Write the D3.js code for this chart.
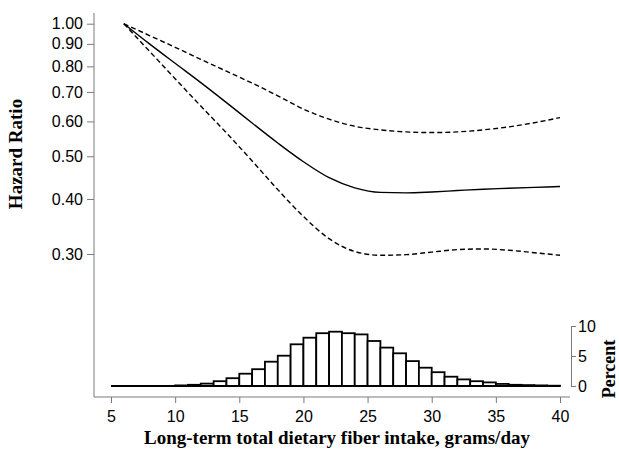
<!DOCTYPE html>
<html>
<head>
<meta charset="utf-8">
<script src="https://cdn.jsdelivr.net/npm/d3@7"></script>
<style>
  body { margin: 0; background: #fff; }
  svg { display: block; }
</style>
</head>
<body>
<div id="chart"></div>
<script>
// fiber intake (grams/day) where the curves were read
const fiber = [6, 8, 10, 12, 14, 16, 18, 20, 22, 24, 26, 28, 30, 32, 34, 36, 38, 40];
// hazard ratio + 95% CI
const hr      = [1.000, 0.900, 0.813, 0.735, 0.662, 0.595, 0.536, 0.486, 0.447, 0.424, 0.414, 0.413, 0.415, 0.418, 0.421, 0.423, 0.425, 0.427];
const hrUpper = [1.000, 0.940, 0.884, 0.830, 0.780, 0.733, 0.686, 0.640, 0.607, 0.585, 0.574, 0.568, 0.566, 0.568, 0.574, 0.583, 0.596, 0.612];
const hrLower = [1.000, 0.866, 0.750, 0.650, 0.565, 0.488, 0.420, 0.365, 0.325, 0.304, 0.298, 0.299, 0.303, 0.307, 0.308, 0.306, 0.302, 0.298];

// histogram, 1 g/day bins starting at 5
const binStart = [5, 6, 7, 8, 9, 10, 11, 12, 13, 14, 15, 16, 17, 18, 19, 20, 21, 22, 23, 24, 25, 26, 27, 28, 29, 30, 31, 32, 33, 34, 35, 36, 37, 38, 39];
const percent  = [0, 0, 0, 0, 0, 0.1, 0.2, 0.4, 0.8, 1.3, 2.05, 2.8, 4.05, 5.05, 6.95, 8.05, 8.8, 9.05, 8.8, 8.6, 7.5, 6.4, 5.45, 4.15, 3.05, 2.3, 1.55, 1.1, 0.8, 0.6, 0.35, 0.2, 0.15, 0.1, 0.05];

const xTicks = [5, 10, 15, 20, 25, 30, 35, 40];
const hrTicks = [0.30, 0.40, 0.50, 0.60, 0.70, 0.80, 0.90, 1.00];
const pctTicks = [0, 5, 10];

const width = 619, height = 453;
const axisGray = "#7a7a7a";

const svg = d3.select("#chart").append("svg")
  .attr("width", width)
  .attr("height", height);

const x = d3.scaleLinear().domain([5, 40]).range([111, 560]);
const y = d3.scaleLog().domain([0.3, 1.0]).range([254, 23.7]);
const yPct = d3.scaleLinear().domain([0, 10]).range([386, 326]);

// left axis (hazard ratio)
const yAxis = svg.append("g")
  .attr("transform", "translate(94,0)")
  .call(d3.axisLeft(y).tickValues(hrTicks).tickFormat(d3.format(".2f")).tickSize(7).tickPadding(4));
yAxis.select(".domain").remove();
svg.append("line")
  .attr("x1", 94).attr("x2", 94).attr("y1", 13).attr("y2", 397)
  .attr("stroke", axisGray);

// bottom axis
const xAxis = svg.append("g")
  .attr("transform", "translate(0,397)")
  .call(d3.axisBottom(x).tickValues(xTicks).tickSize(6).tickPadding(8));
xAxis.select(".domain").remove();
svg.append("line")
  .attr("x1", 94).attr("x2", 570).attr("y1", 397).attr("y2", 397)
  .attr("stroke", axisGray);

// right axis (percent)
svg.append("g")
  .attr("transform", "translate(571,0)")
  .call(d3.axisRight(yPct).tickValues(pctTicks).tickSize(5).tickSizeOuter(0).tickPadding(2));

svg.selectAll(".tick line, .domain").attr("stroke", axisGray);
svg.selectAll(".tick text")
  .attr("fill", "#000")
  .style("font-family", "'Liberation Sans', Arial, sans-serif")
  .style("font-size", "16px");

// histogram
const hist = svg.append("g");
hist.selectAll("rect")
  .data(binStart.filter((d, i) => percent[i] > 0))
  .enter().append("rect")
    .attr("x", d => x(d))
    .attr("y", d => yPct(percent[binStart.indexOf(d)]))
    .attr("width", d => x(d + 1) - x(d))
    .attr("height", d => yPct(0) - yPct(percent[binStart.indexOf(d)]))
    .attr("fill", "#fff")
    .attr("stroke", "#000")
    .attr("stroke-width", 1.8);
// zero line under the bars
hist.append("line")
  .attr("x1", x(binStart[0])).attr("x2", x(binStart[binStart.length - 1] + 1))
  .attr("y1", yPct(0)).attr("y2", yPct(0))
  .attr("stroke", "#000").attr("stroke-width", 2.2);

// spline curves
const line = d3.line()
  .x((d, i) => x(fiber[i]))
  .y(d => y(d))
  .curve(d3.curveMonotoneX);

svg.append("path").datum(hrUpper)
  .attr("d", line).attr("fill", "none")
  .attr("stroke", "#000").attr("stroke-width", 1.4)
  .attr("stroke-dasharray", "5,3");
svg.append("path").datum(hrLower)
  .attr("d", line).attr("fill", "none")
  .attr("stroke", "#000").attr("stroke-width", 1.4)
  .attr("stroke-dasharray", "5,3");
svg.append("path").datum(hr)
  .attr("d", line).attr("fill", "none")
  .attr("stroke", "#000").attr("stroke-width", 1.4);

// titles
const titleFont = "'Liberation Serif', 'Times New Roman', serif";
svg.append("text")
  .attr("transform", "translate(22,154) rotate(-90)")
  .attr("text-anchor", "middle")
  .style("font-family", titleFont).style("font-weight", "bold").style("font-size", "19px")
  .text("Hazard Ratio");

svg.append("text")
  .attr("transform", "translate(615,369) rotate(-90)")
  .attr("text-anchor", "middle")
  .style("font-family", titleFont).style("font-weight", "bold").style("font-size", "18px")
  .text("Percent");

svg.append("text")
  .attr("x", 337).attr("y", 444)
  .attr("text-anchor", "middle")
  .style("font-family", titleFont).style("font-weight", "bold").style("font-size", "19px")
  .text("Long-term total dietary fiber intake, grams/day");
</script>
</body>
</html>
